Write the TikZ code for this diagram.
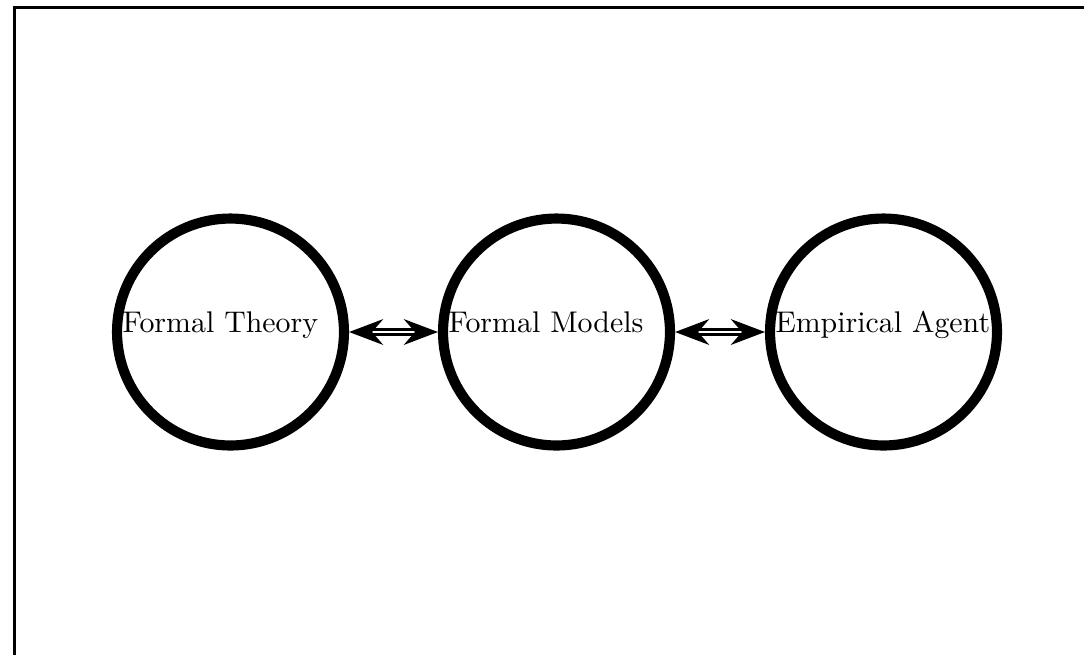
\documentclass[tikz,border=0pt]{standalone}
\usetikzlibrary{arrows.meta}

\tikzset{
  agent/.style={circle, draw, line width=3.4pt, minimum size=2.67cm, inner sep=0pt},
  caption/.style={anchor=base west},
  link/.style={double, line width=1pt, double distance=0.9pt,
    {Stealth[length=11.4pt, width=8.6pt]}-{Stealth[length=11.4pt, width=8.6pt]}}
}

\begin{document}
\begin{tikzpicture}[x=0.011762cm, y=-0.011762cm]
  \useasboundingbox (0,0) rectangle (1084,654);
  \draw[line width=1.1pt] (14.2,7.5) rectangle (1110,680);

  \node[agent] (theory) at (230.5,332) {};
  \node[agent] (models) at (556.5,332) {};
  \node[agent] (empirical) at (883.5,332) {};

  \node[caption] (theorytext) at (theory.west) {Formal Theory};
  \node[caption] (modelstext) at (models.west) {Formal Models};
  \node[caption] (empiricaltext) at (empirical.west) {Empirical Agent};

  \draw[link] (theory) -- (models);
  \draw[link] (models) -- (empirical);
\end{tikzpicture}
\end{document}
